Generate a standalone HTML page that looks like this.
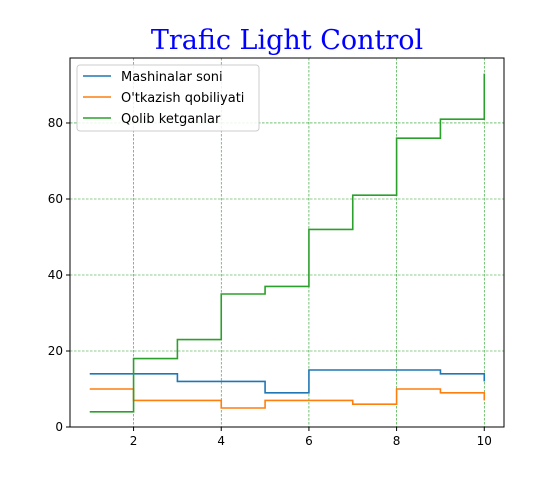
<!DOCTYPE html>
<html><head><meta charset="utf-8"><style>
body{margin:0;background:#fff;}
svg text{font-family:"DejaVu Sans","Liberation Sans",sans-serif;}
</style></head><body>
<svg id="chart" width="560" height="480">
<rect width="560" height="480" fill="#fff"/>
<text x="287" y="49" text-anchor="middle" font-size="27" fill="#0000ff" style="font-family:'DejaVu Serif','Liberation Serif',serif">Trafic Light Control</text>
<g id="grid"></g><g id="series"></g><g id="axes"></g><g id="legend"></g>
</svg>
<script>
const xs=[1,2,3,4,5,6,7,8,9,10];
const mashinalar=[14,14,12,12,9,15,15,15,14,12];
const otkazish=[10,7,7,5,7,7,6,10,9,7];
const qolib=[4,18,23,35,37,52,61,76,81,93];
const xTicks=[2,4,6,8,10];
const yTicks=[0,20,40,60,80];
const L=70,R=504,T=58,B=427,xmin=0.55,xmax=10.45,ymin=0,ymax=97.1;
const X=v=>L+(v-xmin)/(xmax-xmin)*(R-L);
const Y=v=>B-(v-ymin)/(ymax-ymin)*(B-T);
const NS="http://www.w3.org/2000/svg";
function mk(p,t,a){const e=document.createElementNS(NS,t);for(const k in a)e.setAttribute(k,a[k]);p.appendChild(e);return e;}
const g=document.getElementById('grid'),ax=document.getElementById('axes'),s=document.getElementById('series'),lg=document.getElementById('legend');
xTicks.forEach(v=>{
 const l=mk(g,'line',{x1:X(v),x2:X(v),y1:T,y2:B,stroke:'#1a9a1a','stroke-width':0.6,'stroke-dasharray':'2.5,1.5'});
 
 mk(ax,'line',{x1:X(v),x2:X(v),y1:B,y2:B+4,stroke:'#000'});
 const t=mk(ax,'text',{x:X(v),y:B+18,'text-anchor':'middle','font-size':12});t.textContent=v;
 
});
yTicks.forEach(v=>{
 const l=mk(g,'line',{x1:L,x2:R,y1:Y(v),y2:Y(v),stroke:'#1a9a1a','stroke-width':0.6,'stroke-dasharray':'2.5,1.5'});
 
 mk(ax,'line',{x1:L-4,x2:L,y1:Y(v),y2:Y(v),stroke:'#000'});
 const t=mk(ax,'text',{x:L-7,y:Y(v)+4,'text-anchor':'end','font-size':12});t.textContent=v;
 
});
const fr=mk(ax,'rect',{x:L,y:T,width:R-L,height:B-T,fill:'none',stroke:'#000','stroke-width':1});

function step(vals,color,name){
 let d='M'+X(xs[0])+','+Y(vals[0]);
 for(let i=1;i<xs.length;i++){d+=' H'+X(xs[i])+' V'+Y(vals[i]);}
 const p=mk(s,'path',{d:d,fill:'none',stroke:color,'stroke-width':1.6});
 
}
step(mashinalar,'#1f77b4','mashinalar-soni-line');
step(otkazish,'#ff7f0e','otkazish-qobiliyati-line');
step(qolib,'#2ca02c','qolib-ketganlar-line');
const box=mk(lg,'rect',{x:77,y:65,width:182,height:66,rx:3,fill:'#fff','fill-opacity':0.85,stroke:'#ccc'});

[['Mashinalar soni','#1f77b4'],["O'tkazish qobiliyati",'#ff7f0e'],['Qolib ketganlar','#2ca02c']].forEach((e,i)=>{
 const y=76+i*21;
 mk(lg,'line',{x1:83,x2:111,y1:y,y2:y,stroke:e[1],'stroke-width':1.6});
 const t=mk(lg,'text',{x:121,y:y+5,'font-size':13});t.textContent=e[0];
 
});
</script>
</body></html>
